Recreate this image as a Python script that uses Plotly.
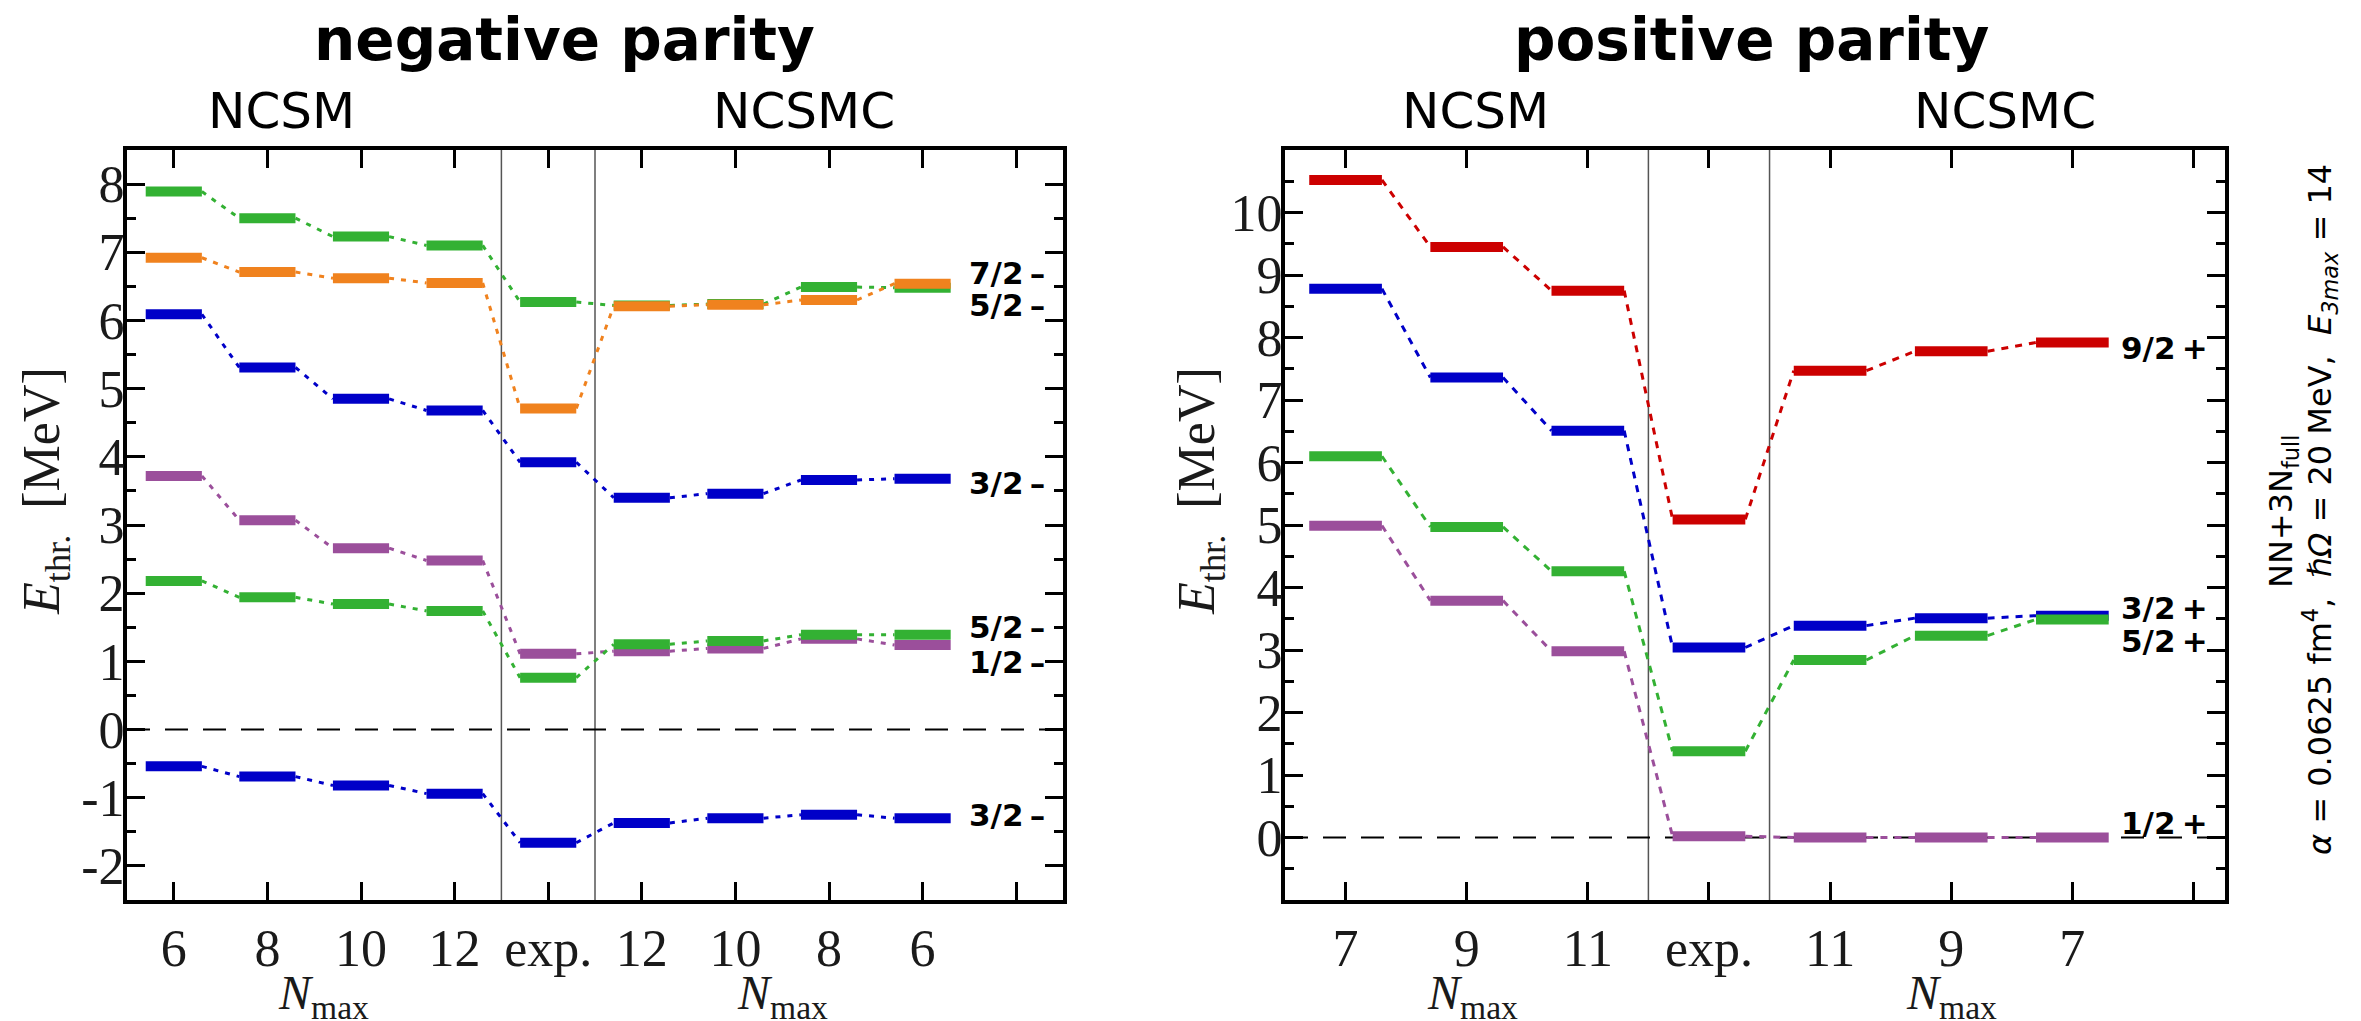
import plotly.graph_objects as go

# ---------------- data ----------------
neg_ticks = ["6", "8", "10", "12", "exp.", "12", "10", "8", "6", ""]
pos_ticks = ["7", "9", "11", "exp.", "11", "9", "7", ""]

# negative parity levels (NCSM Nmax 6..12, exp., NCSMC Nmax 12..6)
neg_blue_hi = [6.09, 5.31, 4.85, 4.68, 3.92, 3.40, 3.46, 3.66, 3.68]
neg_green_hi = [7.89, 7.50, 7.23, 7.10, 6.27, 6.22, 6.24, 6.49, 6.48]
neg_orange = [6.92, 6.71, 6.62, 6.55, 4.71, 6.21, 6.23, 6.30, 6.54]
neg_purple = [3.72, 3.07, 2.66, 2.48, 1.11, 1.15, 1.19, 1.33, 1.24]
neg_green_lo = [2.18, 1.94, 1.84, 1.74, 0.76, 1.25, 1.30, 1.39, 1.39]
neg_blue_lo = [-0.54, -0.69, -0.82, -0.94, -1.66, -1.37, -1.30, -1.25, -1.30]

# positive parity levels (NCSM Nmax 7..11, exp., NCSMC Nmax 11..7)
pos_red = [10.52, 9.45, 8.75, 5.09, 7.47, 7.78, 7.92]
pos_blue = [8.78, 7.36, 6.51, 3.04, 3.39, 3.51, 3.55]
pos_green = [6.10, 4.97, 4.26, 1.38, 2.84, 3.23, 3.49]
pos_purple = [4.99, 3.79, 2.98, 0.02, 0.0, 0.0, 0.0]

neg_level_names = ["7/2\u2009–", "5/2\u2009–", "3/2\u2009–", "5/2\u2009–", "1/2\u2009–", "3/2\u2009–"]
pos_level_names = ["9/2\u2009+", "3/2\u2009+", "5/2\u2009+", "1/2\u2009+"]

# ---------------- styles ----------------
GREEN = "#33b133"
ORANGE = "#f0821e"
BLUE = "#0000c8"
PURPLE = "#9b4f9b"
RED = "#cc0000"

HALF = 0.3          # half width of a level bar (x units)
BAR_W = 10          # bar thickness in px
SERIF = "Liberation Serif, Times New Roman, serif"
SANS = "DejaVu Sans, Verdana, sans-serif"

W, H = 2361, 1021


def px_x(p):
    return p / W


def px_y(p):
    return 1 - p / H


fig = go.Figure()


def add_levels(values, color, xa, ya, dash):
    xs = list(range(1, len(values) + 1))
    # connectors between neighbouring bars
    cx, cy = [], []
    for i in range(len(values) - 1):
        cx += [xs[i] + HALF, xs[i + 1] - HALF, None]
        cy += [values[i], values[i + 1], None]
    fig.add_trace(go.Scatter(x=cx, y=cy, mode="lines", xaxis=xa, yaxis=ya,
                             line=dict(color=color, width=3, dash=dash),
                             hoverinfo="skip", showlegend=False))
    bx, by = [], []
    for x, v in zip(xs, values):
        bx += [x - HALF, x + HALF, None]
        by += [v, v, None]
    fig.add_trace(go.Scatter(x=bx, y=by, mode="lines", xaxis=xa, yaxis=ya,
                             line=dict(color=color, width=BAR_W),
                             hoverinfo="skip", showlegend=False))


NEG_DASH = "5px,7px"
POS_DASH = "7px,7px"

for vals, col in [(neg_blue_hi, BLUE), (neg_green_hi, GREEN), (neg_orange, ORANGE),
                  (neg_purple, PURPLE), (neg_green_lo, GREEN), (neg_blue_lo, BLUE)]:
    add_levels(vals, col, "x", "y", NEG_DASH)

for vals, col in [(pos_red, RED), (pos_blue, BLUE), (pos_green, GREEN), (pos_purple, PURPLE)]:
    add_levels(vals, col, "x2", "y2", POS_DASH)

# ---------------- axes ----------------
ydom = [px_y(900), px_y(150)]

common_x = dict(showline=True, linewidth=4, linecolor="black", mirror="allticks",
                ticks="inside", ticklen=18, tickwidth=3, tickcolor="black",
                showgrid=False, zeroline=False, ticklabelstandoff=0,
                tickfont=dict(family=SERIF, size=52, color="#1a1a1a"))
common_y = dict(showline=True, linewidth=4, linecolor="black", mirror="allticks",
                ticks="inside", ticklen=18, tickwidth=3, tickcolor="black",
                showgrid=False, zeroline=False, ticklabelstandoff=-12,
                tickfont=dict(family=SERIF, size=52, color="#1a1a1a"),
                minor=dict(ticks="inside", ticklen=9, tickwidth=3, tickcolor="black",
                           dtick=0.5, tick0=0, showgrid=False))

fig.update_layout(
    xaxis=dict(domain=[px_x(127), px_x(1063)], range=[0.5, 10.5],
               tickvals=list(range(1, 11)), ticktext=neg_ticks, anchor="y", **common_x),
    yaxis=dict(domain=ydom, range=[-2.5, 8.5], tickvals=list(range(-2, 9)),
               ticktext=[str(v) if v >= 0 else "-" + str(-v) for v in range(-2, 9)],
               anchor="x", **common_y),
    xaxis2=dict(domain=[px_x(1285), px_x(2225)], range=[0.5, 8.26],
                tickvals=list(range(1, 9)), ticktext=pos_ticks, anchor="y2", **common_x),
    yaxis2=dict(domain=ydom, range=[-1, 11], tickvals=list(range(0, 11)),
                ticktext=[str(v) for v in range(0, 11)], anchor="x2", **common_y),
)

# section separators and zero-energy threshold lines
shapes = []
for xv in (4.5, 5.5):
    shapes.append(dict(type="line", xref="x", yref="y domain", x0=xv, x1=xv, y0=0, y1=1,
                       line=dict(color="#555555", width=1.5), layer="below"))
for xv in (3.5, 4.5):
    shapes.append(dict(type="line", xref="x2", yref="y2 domain", x0=xv, x1=xv, y0=0, y1=1,
                       line=dict(color="#555555", width=1.5), layer="below"))
shapes.append(dict(type="line", xref="x domain", yref="y", x0=0, x1=1, y0=0, y1=0,
                   line=dict(color="black", width=2, dash="23px,15px"), layer="below"))
shapes.append(dict(type="line", xref="x2 domain", yref="y2", x0=0, x1=1, y0=0, y1=0,
                   line=dict(color="black", width=2, dash="23px,15px"), layer="below"))
fig.update_layout(shapes=shapes)

# ---------------- text ----------------
ann = []
C = dict(xanchor="center", yanchor="middle", showarrow=False)
# panel titles
ann.append(dict(text="<b>negative parity</b>", x=px_x(564), y=px_y(40), xref="paper",
                yref="paper", font=dict(family=SANS, size=58, color="black"), **C))
ann.append(dict(text="<b>positive parity</b>", x=px_x(1751), y=px_y(40), xref="paper",
                yref="paper", font=dict(family=SANS, size=58, color="black"), **C))
# method headers
for txt, xv, xr in [("NCSM", 2.15, "x"), ("NCSMC", 7.73, "x"),
                    ("NCSM", 2.07, "x2"), ("NCSMC", 6.44, "x2")]:
    ann.append(dict(text=txt, x=xv, y=px_y(111), xref=xr, yref="paper",
                    font=dict(family=SANS, size=50, color="black"), **C))
# Nmax axis titles
for xv, xr in [(2.6, "x"), (7.5, "x"), (2.05, "x2"), (6.0, "x2")]:
    ann.append(dict(text="<i>N</i><sub>max</sub>", x=xv, y=px_y(996), xref=xr, yref="paper",
                    font=dict(family=SERIF, size=48, color="#1a1a1a"), **C))
# energy axis titles
for xp in (45, 1200):
    ann.append(dict(text="<i>E</i><sub>thr.</sub>  [MeV]", x=px_x(xp), y=px_y(491),
                    xref="paper", yref="paper", textangle=-90,
                    font=dict(family=SERIF, size=52, color="#1a1a1a"), **C))
# level labels
neg_label_y = [6.70, 6.23, 3.62, 1.50, 0.99, -1.25]
for txt, yv in zip(neg_level_names, neg_label_y):
    ann.append(dict(text="<b>" + txt + "</b>", x=10.33, y=yv, xref="x", yref="y",
                    xanchor="right", yanchor="middle", showarrow=False,
                    font=dict(family=SANS, size=31, color="black")))
pos_label_y = [7.84, 3.68, 3.15, 0.24]
for txt, yv in zip(pos_level_names, pos_label_y):
    ann.append(dict(text="<b>" + txt + "</b>", x=8.14, y=yv, xref="x2", yref="y2",
                    xanchor="right", yanchor="middle", showarrow=False,
                    font=dict(family=SANS, size=31, color="black")))
# interaction parameters
ann.append(dict(text="NN+3N<sub>full</sub>", x=px_x(2283), y=px_y(511), xref="paper",
                yref="paper", textangle=-90,
                font=dict(family=SANS, size=32, color="black"), **C))
ann.append(dict(text="<i>α</i> = 0.0625 fm<sup>4</sup>,  <i>ℏΩ</i> = 20 MeV,  "
                     "<i>E<sub>3max</sub></i> = 14",
                x=px_x(2320), y=px_y(510), xref="paper", yref="paper", textangle=-90,
                font=dict(family=SANS, size=32, color="black"), **C))
fig.update_layout(annotations=ann)

fig.update_layout(width=W, height=H, margin=dict(l=0, r=0, t=0, b=0),
                  paper_bgcolor="white", plot_bgcolor="white", showlegend=False)

fig.write_html("out.html")
